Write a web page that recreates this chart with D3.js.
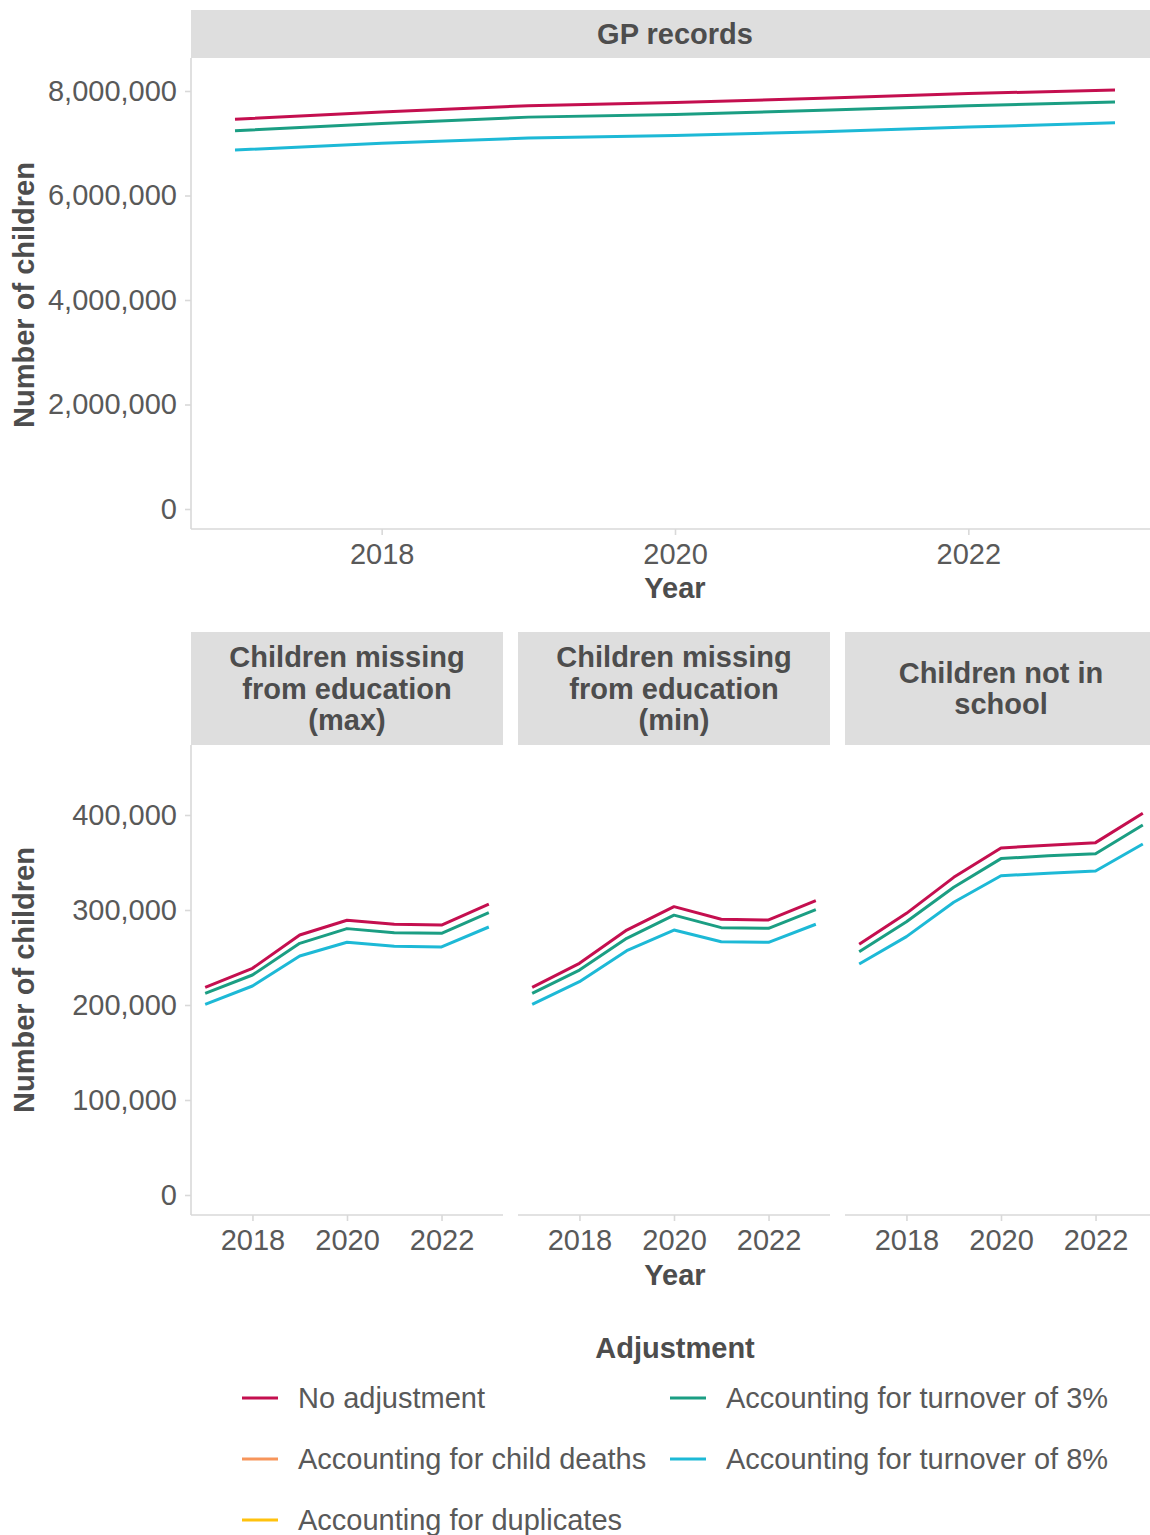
<!DOCTYPE html>
<html><head><meta charset="utf-8">
<script src="https://cdn.jsdelivr.net/npm/d3@7"></script>
<style>
html,body{margin:0;padding:0;background:#fff;}
text{font-family:"Liberation Sans",Arial,sans-serif;}
</style></head>
<body><svg id="c" width="1150" height="1535"></svg>
<script>
// ---- data ----
const years = [2017, 2018, 2019, 2020, 2021, 2022, 2023];
const seriesNames = ["No adjustment", "Accounting for child deaths", "Accounting for duplicates",
                     "Accounting for turnover of 3%", "Accounting for turnover of 8%"];
const seriesColors = ["#c40f4f", "#f7955b", "#ffc20e", "#1b9e83", "#1db9d6"];
const panelTitles = ["GP records", "Children missing\nfrom education\n(max)",
                     "Children missing\nfrom education\n(min)", "Children not in\nschool"];
// GP records
const gpNoAdj = [7460000, 7600000, 7720000, 7780000, 7860000, 7950000, 8020000];
const gpT3    = [7240000, 7380000, 7500000, 7550000, 7630000, 7720000, 7790000];
const gpT8    = [6870000, 7000000, 7100000, 7150000, 7220000, 7310000, 7390000];
// Children missing from education (max)
const cmeMaxNoAdj = [218600, 238600, 273700, 289200, 284900, 284200, 306300];
const cmeMaxT3    = [212300, 231600, 264900, 280400, 276100, 275400, 297200];
const cmeMaxT8    = [200700, 220000, 251600, 266000, 261800, 261100, 282100];
// Children missing from education (min)
const cmeMinNoAdj = [218600, 243900, 278900, 303500, 290200, 289500, 309800];
const cmeMinT3    = [212300, 236800, 270200, 294600, 281400, 280700, 300400];
const cmeMinT8    = [200700, 224600, 257200, 278900, 266600, 266000, 285000];
// Children not in school
const cnisNoAdj = [263900, 296500, 334400, 365300, 368100, 370900, 401800];
const cnisT3    = [256100, 287700, 323900, 354100, 357000, 359300, 389500];
const cnisT8    = [243200, 272000, 308100, 336100, 338600, 341100, 369500];
const topYTicks = [0, 2000000, 4000000, 6000000, 8000000];
const botYTicks = [0, 100000, 200000, 300000, 400000];
const xTicks = [2018, 2020, 2022];

// ---- drawing ----
const svg = d3.select("#c");
const FONT = 29;
const tickCol = "#595959", titleCol = "#4d4d4d", axisCol = "#d9d9d9", stripFill = "#dedede";
const fmt = d3.format(",");

function series(noAdj, t3, t8) {
  return [{i: 0, v: noAdj}, {i: 3, v: t3}, {i: 4, v: t8}];
}

function panel(opts) {
  const {x0, x1, y0, y1, stripY0, stripY1, title, data, yDomain, yRange, showY} = opts;
  const x = d3.scaleLinear().domain([2016.7, 2023.3]).range([x0, x1]);
  const y = d3.scaleLinear().domain(yDomain).range(yRange);
  const g = svg.append("g");
  // strip
  g.append("rect").attr("x", x0).attr("y", stripY0).attr("width", x1 - x0).attr("height", stripY1 - stripY0)
    .attr("fill", stripFill);
  const lines = title.split("\n");
  const lh = 31.5;
  const cy = (stripY0 + stripY1) / 2;
  lines.forEach((l, k) => {
    g.append("text").attr("x", (x0 + x1) / 2)
      .attr("y", cy + (k - (lines.length - 1) / 2) * lh)
      .attr("dy", "0.35em").attr("text-anchor", "middle")
      .attr("font-size", FONT).attr("font-weight", "bold").attr("fill", titleCol).text(l);
  });
  // x axis
  const xa = d3.axisBottom(x).tickValues(xTicks).tickFormat(d3.format("d")).tickSize(6).tickPadding(8);
  const gx = g.append("g").attr("transform", `translate(0,${y1})`).call(xa);
  gx.select(".domain").attr("stroke", axisCol).attr("stroke-width", 1.6).attr("d", `M${x0},0H${x1}`);
  gx.selectAll(".tick line").attr("stroke", axisCol).attr("stroke-width", 1.6);
  gx.selectAll(".tick text").attr("fill", tickCol).attr("font-size", FONT)
    .attr("font-family", '"Liberation Sans",Arial,sans-serif');
  if (showY) {
    const ya = d3.axisLeft(y).tickValues(opts.yTicks).tickFormat(fmt).tickSize(6).tickPadding(8);
    const gy = g.append("g").attr("transform", `translate(${x0},0)`).call(ya);
    gy.select(".domain").attr("stroke", axisCol).attr("stroke-width", 1.6).attr("d", `M0,${y0}V${y1}`);
    gy.selectAll(".tick line").attr("stroke", axisCol).attr("stroke-width", 1.6);
    gy.selectAll(".tick text").attr("fill", tickCol).attr("font-size", FONT)
      .attr("font-family", '"Liberation Sans",Arial,sans-serif');
  }
  const line = d3.line().x((d, k) => x(years[k])).y(d => y(d));
  data.forEach(s => {
    g.append("path").attr("d", line(s.v)).attr("fill", "none")
      .attr("stroke", seriesColors[s.i]).attr("stroke-width", 3).attr("stroke-linejoin", "round");
  });
}

// top panel
panel({x0: 191, x1: 1159, y0: 58, y1: 529, stripY0: 10, stripY1: 58, title: panelTitles[0],
  data: series(gpNoAdj, gpT3, gpT8), yDomain: [0, 8000000], yRange: [509, 91], showY: true, yTicks: topYTicks});

const botData = [series(cmeMaxNoAdj, cmeMaxT3, cmeMaxT8), series(cmeMinNoAdj, cmeMinT3, cmeMinT8),
                 series(cnisNoAdj, cnisT3, cnisT8)];
const lefts = [191, 518, 845];
botData.forEach((d, k) => {
  panel({x0: lefts[k], x1: lefts[k] + 312, y0: 745, y1: 1215, stripY0: 632, stripY1: 745,
    title: panelTitles[k + 1], data: d, yDomain: [0, 400000], yRange: [1195, 815], showY: k === 0, yTicks: botYTicks});
});

// axis titles
function bold(x, y, t, rot) {
  const e = svg.append("text").attr("x", x).attr("y", y).attr("dy", "0.35em").attr("text-anchor", "middle")
    .attr("font-size", FONT).attr("font-weight", "bold").attr("fill", titleCol).text(t);
  if (rot) e.attr("transform", `rotate(-90,${x},${y})`);
}
bold(675, 588, "Year");
bold(675, 1275, "Year");
bold(24, 295, "Number of children", true);
bold(24, 980, "Number of children", true);

// legend
bold(675, 1348, "Adjustment");
const legPos = [[242, 1398], [242, 1459], [242, 1520], [670, 1398], [670, 1459]];
seriesNames.forEach((n, i) => {
  const [lx, ly] = legPos[i];
  svg.append("line").attr("x1", lx).attr("x2", lx + 36).attr("y1", ly).attr("y2", ly)
    .attr("stroke", seriesColors[i]).attr("stroke-width", 3);
  svg.append("text").attr("x", lx + 56).attr("y", ly).attr("dy", "0.35em")
    .attr("font-size", FONT).attr("fill", tickCol).text(n);
});
</script></body></html>
